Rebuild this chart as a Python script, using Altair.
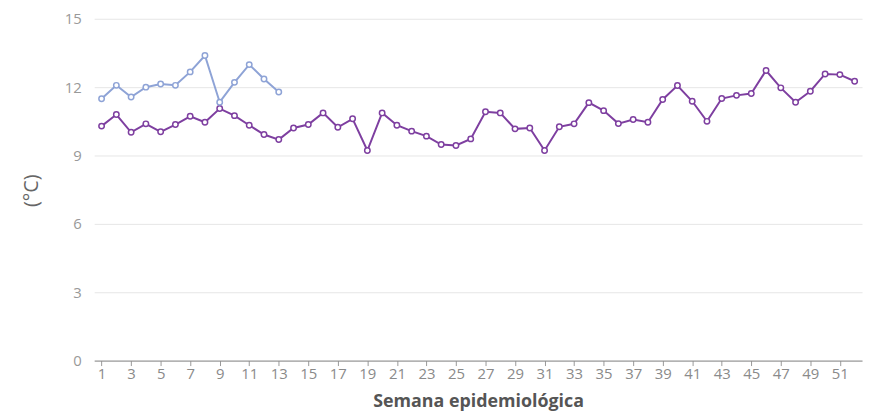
import altair as alt
import pandas as pd

weeks_a = list(range(1, 53))
temp_a = [10.29, 10.80, 10.02, 10.39, 10.04, 10.36, 10.72, 10.46, 11.06, 10.75,
          10.33, 9.92, 9.70, 10.21, 10.36, 10.87, 10.24, 10.61, 9.22, 10.87,
          10.33, 10.07, 9.85, 9.48, 9.44, 9.73, 10.92, 10.87, 10.17, 10.21,
          9.22, 10.26, 10.39, 11.32, 10.97, 10.40, 10.58, 10.46, 11.46, 12.07,
          11.38, 10.50, 11.50, 11.64, 11.72, 12.73, 11.97, 11.34, 11.82, 12.58,
          12.55, 12.26]

weeks_b = list(range(1, 14))
temp_b = [11.49, 12.08, 11.57, 12.00, 12.14, 12.08, 12.67, 13.39, 11.34, 12.21,
          12.99, 12.36, 11.79]

x_ticks = list(range(1, 53, 2))
y_ticks = [0, 3, 6, 9, 12, 15]

df_a = pd.DataFrame({"semana": weeks_a, "temp": temp_a, "serie": "A"})
df_b = pd.DataFrame({"semana": weeks_b, "temp": temp_b, "serie": "B"})

x_enc = alt.X(
    "semana:Q",
    scale=alt.Scale(domain=[0.5, 52.5], nice=False, zero=False),
    axis=alt.Axis(
        values=x_ticks, format="d", title="Semana epidemiológica", grid=False,
        domainColor="#888888", tickColor="#999999", tickSize=5,
        labelColor="#8a8a8a", labelFontSize=15, labelPadding=1,
        labelFont="Open Sans", titleFont="Open Sans",
        titleFontSize=18, titleFontWeight="bold", titleColor="#555555",
        titleY=46, titleBaseline="alphabetic",
        labelFlush=False, labelOverlap=False,
    ),
)
y_enc = alt.Y(
    "temp:Q",
    scale=alt.Scale(domain=[0, 15], nice=False),
    axis=alt.Axis(
        values=y_ticks, format="d", title="(°C)", domain=False, ticks=False,
        gridColor="#e6e6e6", labelColor="#999999", labelFontSize=15,
        labelFont="Open Sans", titleFont="Open Sans", labelPadding=13,
        titleFontSize=20, titleFontWeight="normal", titleColor="#666666",
        titleAngle=-90, titleX=-63, titleY=173, titleAlign="center",
        titleBaseline="middle",
    ),
)

def series(df, color):
    return alt.Chart(df).mark_line(
        color=color, strokeWidth=2,
        point=alt.OverlayMarkDef(shape="circle", size=30, filled=True,
                                 fill="white", stroke=color, strokeWidth=1.5),
    ).encode(x=x_enc, y=y_enc)

chart = alt.layer(
    series(df_a, "#7e3fa0"),
    series(df_b, "#8ea3d6"),
).properties(
    width=775, height=345,
    background="white",
    autosize=alt.AutoSizeParams(type="none"),
    padding={"left": 87, "top": 9, "right": 2, "bottom": 52},
).configure_view(stroke="transparent", strokeWidth=0)

chart.save("out.html", embed_options={"renderer": "svg", "actions": False})
